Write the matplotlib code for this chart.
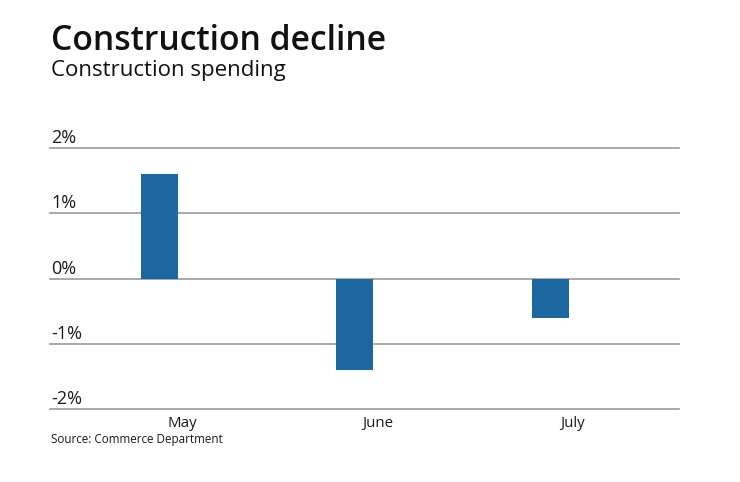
import matplotlib
matplotlib.use("Agg")
import matplotlib.pyplot as plt

categories = ["May", "June", "July"]
values = [1.6, -1.4, -0.6]
yticks = [2, 1, 0, -1, -2]
ytick_labels = ["2%", "1%", "0%", "-1%", "-2%"]

title = "Construction decline"
subtitle = "Construction spending"
source = "Source: Commerce Department"

W, H = 740, 482
DPI = 100
plt.rcParams['font.family'] = ['Open Sans', 'DejaVu Sans']

fig = plt.figure(figsize=(W / DPI, H / DPI), dpi=DPI)
fig.patch.set_facecolor("white")

# axes region in pixels
x0, x1 = 50, 679
ytop, ybot = 148, 409.3
ax = fig.add_axes([x0 / W, 1 - ybot / H, (x1 - x0) / W, (ybot - ytop) / H])
ax.set_facecolor("none")

bar_color = "#1c67a0"
xs = list(range(len(categories)))
ax.bar(xs, values, width=0.19, color=bar_color, zorder=3)

ax.set_xlim(-0.56, 2.659)
ax.set_ylim(-2, 2)

grid_color = "#9a9a9a"
for t, lab in zip(yticks, ytick_labels):
    ax.axhline(t, color=grid_color, linewidth=1.2, zorder=1, clip_on=False)
    ax.annotate(lab, xy=(0, t), xycoords=("axes fraction", "data"),
                xytext=(1, 5), textcoords="offset pixels",
                ha="left", va="baseline", fontsize=13, color="#1a1a1a")

ax.set_yticks([])
ax.set_xticks([x + 0.115 for x in xs])
ax.set_xticklabels(categories, fontsize=10.8, color="#1a1a1a")
ax.tick_params(axis="x", length=0, pad=5)
for s in ax.spines.values():
    s.set_visible(False)

fig.text(51 / W, 1 - 50 / H, title, fontsize=24.3, fontweight="semibold",
         color="#111111", ha="left", va="baseline")
fig.text(51 / W, 1 - 76 / H, subtitle, fontsize=16, color="#111111",
         ha="left", va="baseline")
fig.text(51 / W, 1 - 443 / H, source, fontsize=8.4, color="#1a1a1a",
         ha="left", va="baseline")

fig.savefig("out.png", dpi=DPI, facecolor="white")
